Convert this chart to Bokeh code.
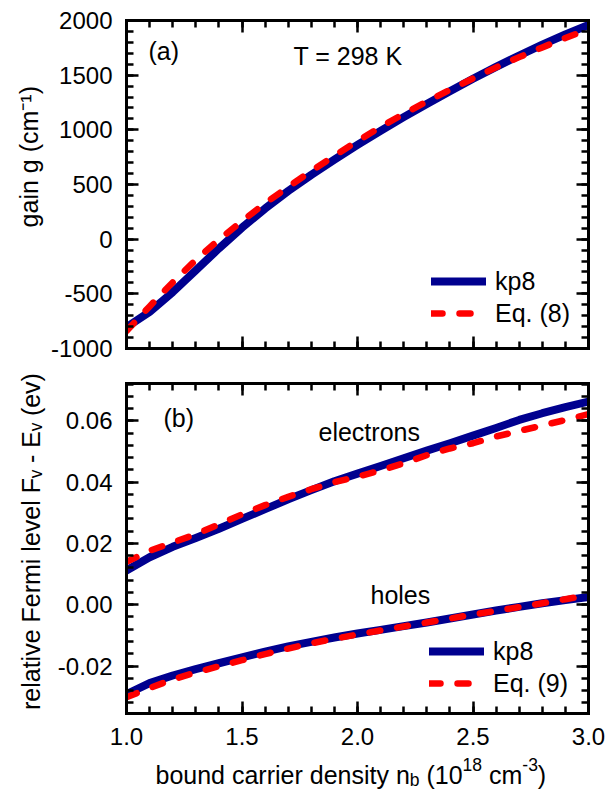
from bokeh.plotting import figure
from bokeh.models import (LinearAxis, SingleIntervalTicker, CustomJSTickFormatter,
                          Range1d, Legend, LegendItem, Label)
from bokeh.layouts import column
from bokeh.embed import file_html
from bokeh.resources import INLINE

# ---------------- data ----------------
density = [1.0, 1.1, 1.2, 1.3, 1.4, 1.5, 1.6, 1.7, 1.8, 1.9, 2.0,
           2.1, 2.2, 2.3, 2.4, 2.5, 2.6, 2.7, 2.8, 2.9, 3.0]

gain_kp8 = [-805, -665, -485, -285, -85, 105, 280, 440, 588, 728, 862,
            991, 1116, 1237, 1354, 1467, 1576, 1680, 1779, 1872, 1959]
gain_eq8 = [-840, -615, -395, -190, -5, 165, 328, 478, 623, 763, 897,
            1026, 1146, 1259, 1366, 1470, 1571, 1665, 1754, 1840, 1920]

electrons_kp8 = [0.0112, 0.0155, 0.0189, 0.0218, 0.0248, 0.0280, 0.0312, 0.0344, 0.0374, 0.0403, 0.0428,
                 0.0453, 0.0478, 0.0503, 0.0527, 0.0552, 0.0577, 0.0603, 0.0625, 0.0645, 0.0663]
electrons_eq9 = [0.0140, 0.0176, 0.0203, 0.0230, 0.0262, 0.0295, 0.0325, 0.0352, 0.0377, 0.0400, 0.0418,
                 0.0438, 0.0462, 0.0488, 0.0510, 0.0527, 0.0549, 0.0567, 0.0585, 0.0603, 0.0622]
holes_kp8 = [-0.0292, -0.0256, -0.0231, -0.0210, -0.0191, -0.0172, -0.0153, -0.0136, -0.0121, -0.0107, -0.0094,
             -0.0082, -0.0070, -0.0058, -0.0045, -0.0032, -0.0019, -0.0007, 0.0005, 0.0015, 0.0025]
holes_eq9 = [-0.0302, -0.0272, -0.0244, -0.0221, -0.0201, -0.0181, -0.0161, -0.0143, -0.0126, -0.0111, -0.0097,
             -0.0084, -0.0071, -0.0058, -0.0045, -0.0032, -0.0020, -0.0008, 0.0005, 0.0018, 0.0031]

x_range = (1.0, 3.0)
gain_range = (-1000, 2000)
fermi_range = (-0.0355, 0.0722)

NBSP = "\u00a0"
gain_title = NBSP * 8 + "gain g (cm\u207b\u00b9)"
fermi_title = NBSP * 2 + "relative Fermi level F\u1d65 - E\u1d65 (ev)"

# ---------------- style ----------------
FONT = "Liberation Sans"
BLUE = "#00008f"
RED = "#ff0000"
TICK_FS = "24px"
TEXT_FS = 25.0
BASE_FIX = 11      # renderer draws 'alphabetic' labels this many px lower

WIDTHS = {' ': 278, '(': 333, ')': 333, '-': 333, '.': 278, 'a': 556, 'b': 556,
          'c': 500, 'd': 556, 'e': 556, 'g': 556, 'i': 222, 'l': 222, 'm': 833, 'n': 556,
          'o': 556, 'r': 333, 's': 500, 't': 278, 'u': 556, 'v': 500, 'y': 500, 'E': 667, 'F': 611}
for _d in "0123456789":
    WIDTHS[_d] = 556


def text_width(s, size):
    return sum(WIDTHS.get(ch, 556) for ch in s) * size / 1000.0


def rich_text(p, pieces, x0, y0):
    """Horizontal text made of (text, kind) pieces, kind in n/sub/sup; frame-relative px."""
    pos = 0.0
    for txt, kind in pieces:
        size = TEXT_FS if kind == "n" else TEXT_FS * 0.7
        shift = {"n": 0.0, "sub": -0.2 * TEXT_FS, "sup": 0.4 * TEXT_FS}[kind]
        body = txt.lstrip(" ")
        pos += text_width(txt[:len(txt) - len(body)], size)
        p.add_layout(Label(x=x0 + pos, y=y0 + shift + BASE_FIX, x_units="screen", y_units="screen",
                           text=body, text_font=FONT,
                           text_font_size=f"{size:.1f}px", text_baseline="alphabetic",
                           text_align="left", text_color="black"))
        pos += text_width(body, size)


def plain_label(p, txt, x, y):
    p.add_layout(Label(x=x, y=y + BASE_FIX, x_units="screen", y_units="screen", text=txt,
                       text_font=FONT, text_font_size=f"{TEXT_FS:.0f}px",
                       text_baseline="alphabetic", text_align="left", text_color="black"))


def style_axis(ax, labels):
    ax.axis_line_width = 3
    ax.axis_line_color = "black"
    ax.axis_line_cap = "square"
    ax.major_tick_in = 12
    ax.major_tick_out = 0
    ax.minor_tick_in = 7
    ax.minor_tick_out = 0
    ax.major_tick_line_width = 2.5
    ax.minor_tick_line_width = 2.5
    ax.major_tick_line_color = "black"
    ax.minor_tick_line_color = "black"
    ax.major_label_text_font = FONT
    ax.major_label_text_font_size = TICK_FS
    ax.major_label_text_color = "black"
    ax.axis_label_text_font = FONT
    ax.axis_label_text_font_size = f"{TEXT_FS:.0f}px"
    ax.axis_label_text_font_style = "normal"
    ax.axis_label_text_color = "black"
    if labels is None:
        ax.formatter = CustomJSTickFormatter(code="return '';")
        ax.major_label_standoff = 0
    else:
        ax.formatter = CustomJSTickFormatter(code=labels)
        ax.major_label_standoff = 14


def make_panel(height, yr, y_interval, y_code, y_title, title_standoff,
               show_x_labels, top_border, bottom_border):
    p = figure(width=608, height=height, x_range=Range1d(*x_range), y_range=Range1d(*yr),
               output_backend="svg", toolbar_location=None,
               min_border_left=126, min_border_right=20,
               min_border_top=top_border, min_border_bottom=bottom_border,
               x_axis_type=None, y_axis_type=None)
    p.outline_line_color = None
    p.background_fill_color = "white"
    p.border_fill_color = "white"

    xcode = "return tick.toFixed(1);" if show_x_labels else None
    for loc, labs in (("below", xcode), ("above", None)):
        ax = LinearAxis(ticker=SingleIntervalTicker(interval=0.5, num_minor_ticks=5))
        style_axis(ax, labs)
        p.add_layout(ax, loc)
    for loc, labs in (("left", y_code), ("right", None)):
        ax = LinearAxis(ticker=SingleIntervalTicker(interval=y_interval, num_minor_ticks=5))
        style_axis(ax, labs)
        if loc == "left":
            ax.axis_label = y_title
            ax.axis_label_standoff = title_standoff
        p.add_layout(ax, loc)
    return p


def legend(items, loc):
    return Legend(items=items, location=loc, padding=0, margin=0, spacing=0,
                  glyph_width=55, glyph_height=32, label_height=32, label_standoff=9,
                  label_text_font=FONT, label_text_font_size=f"{TEXT_FS:.0f}px",
                  label_text_color="black",
                  border_line_color=None, background_fill_alpha=0)


# ---------------- panel (a) ----------------
H_A = 365
pa = make_panel(H_A, gain_range, 500, "return tick.toFixed(0);", gain_title, 5,
                False, 20, 17)
ra1 = pa.line(density, gain_kp8, line_color=BLUE, line_width=8, line_cap="round", line_join="round")
ra2 = pa.line(density, gain_eq8, line_color=RED, line_width=6.5, line_dash="11 17",
              line_cap="round", line_join="round")
pa.add_layout(legend([LegendItem(label="kp8", renderers=[ra1]),
                      LegendItem(label="Eq. (8)", renderers=[ra2])], (305, 19)))
plain_label(pa, "(a)", 22, 287)
plain_label(pa, "T = 298 K", 167, 282)

# ---------------- panel (b) ----------------
H_B = 391
pb = make_panel(H_B, fermi_range, 0.02,
                "return Math.abs(tick) < 1e-9 ? '0.00' : tick.toFixed(2);", fermi_title, 10,
                True, 18, 43)
rb1 = pb.line(density, electrons_kp8, line_color=BLUE, line_width=8, line_cap="round", line_join="round")
rb2 = pb.line(density, electrons_eq9, line_color=RED, line_width=6.5, line_dash="11 17",
              line_cap="round", line_join="round")
pb.line(density, holes_kp8, line_color=BLUE, line_width=8, line_cap="round", line_join="round")
pb.line(density, holes_eq9, line_color=RED, line_width=6.5, line_dash="11 17",
        line_cap="round", line_join="round")
pb.add_layout(legend([LegendItem(label="kp8", renderers=[rb1]),
                      LegendItem(label="Eq. (9)", renderers=[rb2])], (303, 14)))
plain_label(pb, "(b)", 37, 285)
plain_label(pb, "electrons", 192, 271)
plain_label(pb, "holes", 244, 108)

# ---------------- x title strip ----------------
# (the column aligns this strip's frame with the panels' frames, which start 126 px in)
H_X = 795 - H_A - H_B
xt = figure(width=608, height=H_X, x_range=Range1d(0, 1), y_range=Range1d(0, 1),
            output_backend="svg", toolbar_location=None, min_border=0,
            x_axis_type=None, y_axis_type=None)
xt.outline_line_color = None
xt.grid.visible = False
xt.border_fill_color = "white"
rich_text(xt, [("bound carrier density n", "n"), ("b", "sub"), (" (10", "n"), ("18", "sup"),
               (" cm", "n"), ("-3", "sup"), (")", "n")], 155 - 126, 795 - 785)

layout = column(pa, pb, xt, spacing=0)
open("out.html", "w").write(file_html(layout, INLINE))
